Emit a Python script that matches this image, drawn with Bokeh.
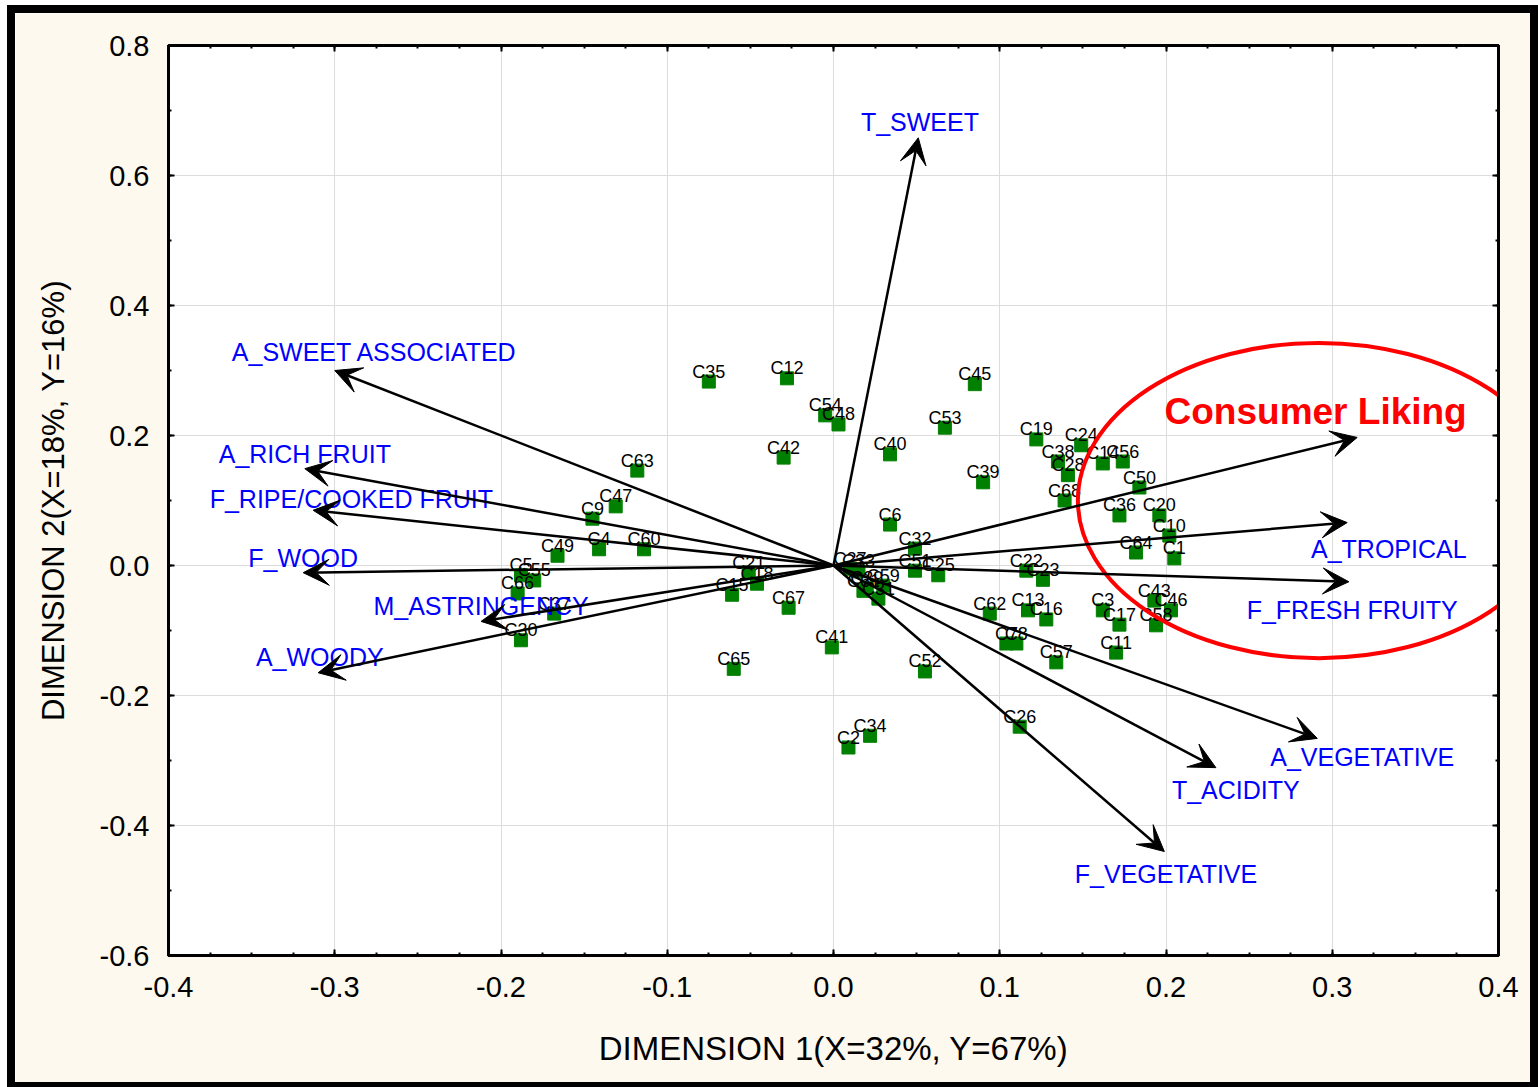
from bokeh.plotting import figure
from bokeh.models import (ColumnDataSource, Arrow, VeeHead, LinearAxis, FixedTicker,
                          Range1d, PrintfTickFormatter, CustomJSTickFormatter)
from bokeh.embed import file_html
from bokeh.resources import INLINE
from bokeh.core.properties import value

# ---- data -------------------------------------------------------------
point_names = ["C1", "C2", "C3", "C4", "C5", "C6", "C7", "C8", "C9", "C10",
               "C11", "C12", "C13", "C14", "C15", "C16", "C17", "C18", "C19", "C20",
               "C21", "C22", "C23", "C24", "C25", "C26", "C27", "C28", "C29", "C30",
               "C31", "C32", "C33", "C34", "C35", "C36", "C37", "C38", "C39", "C40",
               "C41", "C42", "C43", "C45", "C46", "C47", "C48", "C49", "C50",
               "C51", "C52", "C53", "C54", "C55", "C56", "C57", "C58", "C59", "C60",
               "C61", "C62", "C63", "C64", "C65", "C66", "C67", "C68"]
point_x = [0.205, 0.009, 0.162, -0.141, -0.188, 0.034, 0.104, 0.110, -0.145, 0.202,
           0.170, -0.028, 0.117, 0.162, -0.061, 0.128, 0.172, -0.046, 0.122, 0.196,
           -0.051, 0.116, 0.126, 0.149, 0.063, 0.112, 0.010, 0.141, 0.020, -0.188,
           0.027, 0.049, 0.015, 0.022, -0.075, 0.172, -0.168, 0.135, 0.090, 0.034,
           -0.001, -0.030, 0.193, 0.085, 0.203, -0.131, 0.003, -0.166, 0.184,
           0.049, 0.055, 0.067, -0.005, -0.180, 0.174, 0.134, 0.194, 0.030, -0.114,
           0.018, 0.094, -0.118, 0.182, -0.060, -0.190, -0.027, 0.139]
point_y = [0.011, -0.280, -0.069, 0.025, -0.015, 0.063, -0.120, -0.120, 0.072, 0.046,
           -0.134, 0.288, -0.069, 0.157, -0.045, -0.083, -0.091, -0.028, 0.194, 0.077,
           -0.011, -0.008, -0.022, 0.185, -0.015, -0.248, -0.005, 0.139, -0.035, -0.115,
           -0.051, 0.026, -0.009, -0.262, 0.283, 0.077, -0.074, 0.160, 0.128, 0.171,
           -0.126, 0.166, -0.054, 0.279, -0.069, 0.091, 0.217, 0.015, 0.120,
           -0.008, -0.163, 0.212, 0.231, -0.023, 0.160, -0.149, -0.092, -0.031, 0.025,
           -0.039, -0.074, 0.146, 0.020, -0.159, -0.043, -0.065, 0.100]

attr_names = ["T_SWEET", "A_SWEET ASSOCIATED", "A_RICH FRUIT", "F_RIPE/COOKED FRUIT",
              "F_WOOD", "M_ASTRINGENCY", "A_WOODY", "A_VEGETATIVE", "T_ACIDITY",
              "F_VEGETATIVE", "A_TROPICAL", "F_FRESH FRUITY"]
attr_x = [0.051, -0.300, -0.318, -0.313, -0.319, -0.212, -0.310, 0.291, 0.230,
          0.199, 0.309, 0.310]
attr_y = [0.658, 0.300, 0.149, 0.085, -0.011, -0.086, -0.165, -0.266, -0.311,
          -0.440, 0.066, -0.025]
attr_label_x = [0.052, -0.276, -0.318, -0.290, -0.319, -0.212, -0.309, 0.318, 0.242,
                0.200, 0.334, 0.312]
attr_label_y = [0.683, 0.328, 0.172, 0.103, 0.011, -0.063, -0.141, -0.295, -0.345,
                -0.474, 0.026, -0.068]

liking_name = "Consumer Liking"
liking_x = 0.315
liking_y = 0.197
liking_label_x = 0.290
liking_label_y = 0.237
liking_ellipse = dict(x=0.292, y=0.100, w=0.290, h=0.485)

x_ticks = [-0.4, -0.3, -0.2, -0.1, 0.0, 0.1, 0.2, 0.3, 0.4]
x_minor = [round(-0.4 + 0.025 * i, 3) for i in range(33)]
y_ticks = [-0.6, -0.4, -0.2, 0.0, 0.2, 0.4, 0.6, 0.8]
y_minor = [round(-0.6 + 0.1 * i, 2) for i in range(15)]

x_title = "DIMENSION 1(X=32%, Y=67%)"
y_title = "DIMENSION 2(X=18%, Y=16%)"

# ---- figure -----------------------------------------------------------
FONT = "Liberation Sans"
p = figure(width=1515, height=1069, output_backend="svg", toolbar_location=None,
           x_range=Range1d(-0.4, 0.4), y_range=Range1d(-0.6, 0.8),
           min_border_left=153, min_border_right=32, min_border_top=32,
           min_border_bottom=127,
           background_fill_color="white", border_fill_color="#FDF9EE",
           styles={"margin-left": "15px", "margin-top": "13px",
                   "outline": "8px solid black"})
p.outline_line_color = "black"
p.outline_line_width = 3

xt = FixedTicker(ticks=x_ticks, minor_ticks=x_minor)
yt = FixedTicker(ticks=y_ticks, minor_ticks=y_minor)

for ax, tk in ((p.xaxis[0], xt), (p.yaxis[0], yt)):
    ax.ticker = tk
    ax.formatter = PrintfTickFormatter(format="%.1f")
    ax.axis_line_width = 3
    ax.major_tick_in = 6
    ax.major_tick_out = 0
    ax.minor_tick_in = 3
    ax.minor_tick_out = 0
    ax.major_tick_line_width = 2
    ax.minor_tick_line_width = 2
    ax.major_label_text_font = FONT
    ax.major_label_text_font_size = "29px"
    ax.major_label_text_color = "black"
    ax.axis_label_text_font = FONT
    ax.axis_label_text_font_style = "normal"
    ax.axis_label_text_color = "black"

p.xaxis[0].axis_label = x_title
p.yaxis[0].axis_label = y_title
p.xaxis[0].axis_label_text_font_size = "33px"
p.yaxis[0].axis_label_text_font_size = "31px"
p.xaxis[0].major_label_standoff = 21
p.xaxis[0].axis_label_standoff = 30
p.yaxis[0].major_label_standoff = 19
p.yaxis[0].axis_label_standoff = 26

for tk, side in ((xt, "above"), (yt, "right")):
    a = LinearAxis(ticker=tk, formatter=CustomJSTickFormatter(code="return ''"),
                   axis_line_width=3, major_tick_in=6, major_tick_out=0,
                   minor_tick_in=3, minor_tick_out=0, major_tick_line_width=2,
                   minor_tick_line_width=2, major_label_standoff=0)
    p.add_layout(a, side)

p.xgrid.ticker = xt
p.ygrid.ticker = yt
p.grid.grid_line_color = "#DCDCDC"
p.grid.grid_line_width = 1

# points
pts = ColumnDataSource(dict(x=point_x, y=point_y, name=point_names))
p.scatter("x", "y", source=pts, marker="square", size=13,
          fill_color="#008000", line_color="#008000")
p.text("x", "y", text="name", source=pts, text_align="center",
       text_baseline="alphabetic", y_offset=-10, text_font=value(FONT),
       text_font_size="18px", text_color="black")

# attribute vectors
vec = ColumnDataSource(dict(x0=[0.0] * (len(attr_x) + 1), y0=[0.0] * (len(attr_x) + 1),
                            x1=attr_x + [liking_x], y1=attr_y + [liking_y]))
p.add_layout(Arrow(source=vec, x_start="x0", y_start="y0", x_end="x1", y_end="y1",
                   line_color="black", line_width=2.5,
                   end=VeeHead(size=26, fill_color="black", line_color="black",
                               line_width=1)))

lab = ColumnDataSource(dict(x=attr_label_x, y=attr_label_y, t=attr_names))
p.text("x", "y", text="t", source=lab, text_align="center", text_baseline="middle",
       text_font=value(FONT), text_font_size="25px", text_color="#0000FF")

# consumer liking
p.ellipse(x=[liking_ellipse["x"]], y=[liking_ellipse["y"]],
          width=[liking_ellipse["w"]], height=[liking_ellipse["h"]],
          fill_color=None, line_color="#FF0000", line_width=4)
p.text(x=[liking_label_x], y=[liking_label_y], text=[liking_name],
       text_align="center", text_baseline="middle", text_font=value(FONT),
       text_font_size="37px", text_font_style="bold", text_color="#FF0000")

open("out.html", "w").write(file_html(p, INLINE))
